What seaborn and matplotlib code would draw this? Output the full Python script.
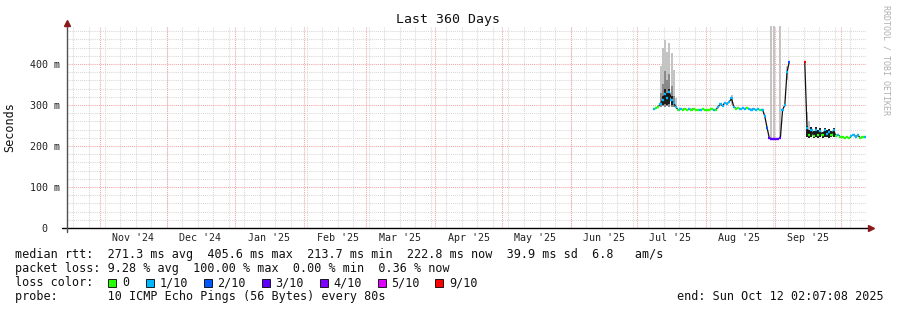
import numpy as np
import pandas as pd
import matplotlib
matplotlib.use("Agg")
import matplotlib.pyplot as plt
import matplotlib.dates as mdates
from matplotlib.patches import Rectangle
from datetime import datetime
import seaborn as sns

sns.set_theme(style="white")
plt.rcParams['font.family'] = ['DejaVu Sans Mono', 'DejaVu Sans']

# ---------------- data ----------------
start_day = "2025-07-08 12:00"
n_days = 96
median_ms = [
    290, 292, 296, 303, 312, 328, 318, 332, 312, 304, 295,           # Jul 8-18
    287, 290, 289, 291, 288, 290, 289, 291, 288, 289, 287, 290, 288, # Jul 19-31
    289, 288, 290, 288, 289,                                          # Aug 1-5
    296, 302, 298, 306, 303, 308, 316, 296,                           # Aug 6-13
    291, 293, 290, 292, 291, 293, 290, 289, 291, 288, 290, 288, 289,  # Aug 14-26
    272, 245, 220, 218, 218,                                          # Aug 27-31
    217, 218, 219, 288, 300, 380, 405,                                # Sep 1-7
    np.nan, np.nan, np.nan, np.nan, np.nan, np.nan,                   # Sep 8-13
    405, 245, 228, 238, 224, 240, 228, 236, 226, 238, 229, 235,       # Sep 14-25
    227, 238, 225, 228, 222,                                          # Sep 26-30
    221, 220, 222, 219, 225, 227, 223, 226, 220, 221, 222.8,          # Oct 1-11
]
loss_tenths = [
    1, 0, 0, 1, 1, 1, 1, 1, 1, 1, 1,
    0, 1, 0, 0, 0, 1, 0, 0, 0, 0, 1, 0, 0,
    0, 0, 0, 1, 0,
    1, 1, 1, 1, 1, 1, 1, 1,
    0, 0, 1, 1, 1, 0, 1, 1, 1, 1, 1, 0, 1,
    1, 2, 3, 3, 3,
    3, 3, 3, 1, 1, 1, 2,
    np.nan, np.nan, np.nan, np.nan, np.nan, np.nan,
    9, 1, 0, 1, 0, 1, 0, 1, 0, 1, 1, 1,
    0, 1, 0, 1, 0,
    0, 0, 0, 0, 1, 1, 1, 1, 0, 0, 1,
]
# smoke (ping spread) per day, ms
smoke_lo = {"2025-07-11": 296, "2025-07-12": 297, "2025-07-13": 296, "2025-07-14": 297,
            "2025-07-15": 296, "2025-07-16": 296, "2025-07-17": 295, "2025-07-18": 292,
            "2025-08-12": 300, "2025-08-30": 217, "2025-08-31": 217, "2025-09-03": 218,
            "2025-09-06": 362, "2025-09-15": 222, "2025-09-16": 220}
smoke_hi = {"2025-07-11": 395, "2025-07-12": 440, "2025-07-13": 458, "2025-07-14": 430,
            "2025-07-15": 452, "2025-07-16": 428, "2025-07-17": 385, "2025-07-18": 318,
            "2025-08-12": 324, "2025-08-30": 500, "2025-08-31": 500, "2025-09-03": 500,
            "2025-09-06": 396, "2025-09-15": 282, "2025-09-16": 262}
smoke_mid = {"2025-07-11": 330, "2025-07-12": 352, "2025-07-13": 382, "2025-07-14": 360,
             "2025-07-15": 376, "2025-07-16": 346, "2025-07-17": 322}
core_lo = {"2025-07-12": 300, "2025-07-13": 302, "2025-07-14": 301, "2025-07-15": 303,
           "2025-07-16": 300, "2025-09-15": 222, "2025-09-16": 220, "2025-09-17": 221,
           "2025-09-18": 219, "2025-09-19": 221, "2025-09-20": 220, "2025-09-21": 222,
           "2025-09-22": 220, "2025-09-23": 221, "2025-09-24": 222, "2025-09-25": 220,
           "2025-09-26": 221, "2025-09-27": 222}
core_hi = {"2025-07-12": 322, "2025-07-13": 338, "2025-07-14": 330, "2025-07-15": 340,
           "2025-07-16": 322, "2025-09-15": 250, "2025-09-16": 240, "2025-09-17": 246,
           "2025-09-18": 236, "2025-09-19": 247, "2025-09-20": 238, "2025-09-21": 244,
           "2025-09-22": 234, "2025-09-23": 245, "2025-09-24": 238, "2025-09-25": 242,
           "2025-09-26": 236, "2025-09-27": 244}

loss_labels = ["0", "1/10", "2/10", "3/10", "4/10", "5/10", "9/10"]
loss_levels = [0, 1, 2, 3, 4, 5, 9]
loss_colors = ["#26ff00", "#00b8ff", "#0059ff", "#5e00ff", "#7e00ff", "#dd00ff", "#ff0000"]

y_ticks = [0, 100, 200, 300, 400]
y_tick_labels = ["0  ", "100 m", "200 m", "300 m", "400 m"]

stat_lines = [
    "median rtt:  271.3 ms avg  405.6 ms max  213.7 ms min  222.8 ms now  39.9 ms sd  6.8   am/s",
    "packet loss: 9.28 % avg  100.00 % max  0.00 % min  0.36 % now",
    "loss color:",
    "probe:       10 ICMP Echo Pings (56 Bytes) every 80s",
]
end_text = "end: Sun Oct 12 02:07:08 2025"
title = "Last 360 Days"

t_start = datetime(2024, 10, 17, 2, 7, 8)
t_end = datetime(2025, 10, 12, 2, 7, 8)

# ---------------- frame ----------------
W, H = 897, 310
fig = plt.figure(figsize=(W / 100, H / 100), dpi=100)
fig.patch.set_facecolor("white")
ax = fig.add_axes([67 / W, (H - 228) / H, 799 / W, 202 / H])
ax.set_facecolor("white")
for s in ax.spines.values():
    s.set_visible(False)
ax.set_xlim(mdates.date2num(t_start), mdates.date2num(t_end))
ax.set_ylim(0, 492.7)

dot = (0, (1, 1))
# horizontal grid
for v in range(20, 500, 20):
    if v % 100 == 0:
        ax.axhline(v, color="#f2a6a6", lw=0.75, ls=dot, zorder=1)
    else:
        ax.axhline(v, color="#d8d8d8", lw=0.75, ls=dot, zorder=0.5)
# vertical grid: weekly minor, monthly major
for d in pd.date_range("2024-10-20", "2025-10-12", freq="7D"):
    ax.axvline(mdates.date2num(d), color="#d8d8d8", lw=0.75, ls=dot, zorder=0.5)
for d in pd.date_range("2024-11-01", "2025-10-01", freq="MS"):
    ax.axvline(mdates.date2num(d), color="#f2a6a6", lw=0.75, ls=dot, zorder=1)

# ---------------- data drawing ----------------
dates = pd.date_range(start_day, periods=n_days, freq="D")
df = pd.DataFrame({"date": dates, "median": median_ms, "loss": loss_tenths})
df["seg"] = df["median"].isna().cumsum()
day_key = dates.strftime("%Y-%m-%d")

def aligned(d):
    return pd.Series([d.get(k, np.nan) for k in day_key], index=dates)

def smoke_bars(lo, hi, color, z):
    ok = lo.notna() & hi.notna()
    ax.bar(dates[ok], (hi - lo)[ok], bottom=lo[ok], width=0.9, color=color,
           lw=0, zorder=z, align="center")

lo = aligned(smoke_lo); hi = aligned(smoke_hi); mid = aligned(smoke_mid)
clo = aligned(core_lo); chi = aligned(core_hi)
smoke_bars(lo, hi, "#c4c4c4", 2)
smoke_bars(lo, mid, "#8a8a8a", 2.1)
smoke_bars(clo, chi, "#1e1e1e", 2.2)

sns.lineplot(data=df.dropna(subset=["median"]), x="date", y="median", units="seg",
             estimator=None, color="#111111", lw=0.9, ax=ax, zorder=3)

half = pd.Timedelta(hours=12)
for lvl, col in zip(loss_levels, loss_colors):
    sub = df[df["loss"] == lvl]
    if len(sub):
        ax.hlines(sub["median"], sub["date"] - half, sub["date"] + half,
                  colors=col, lw=1.7, zorder=4)

# ---------------- axes, ticks ----------------
mid_months = pd.date_range("2024-11-01", "2025-09-01", freq="MS") + pd.Timedelta(days=15)
ax.set_xticks(mdates.date2num(mid_months))
ax.set_xticklabels([d.strftime("%b '%y") for d in mid_months])
ax.set_yticks(y_ticks)
ax.set_yticklabels(y_tick_labels)
ax.tick_params(axis="x", length=0, pad=3.5, labelsize=7.2, labelcolor="#222222")
ax.tick_params(axis="y", length=0, pad=5.2, labelsize=7.2, labelcolor="#222222")
ax.set_xlabel(""); ax.set_ylabel("")

# axis lines with arrows
ax.plot([-5 / 799, 802 / 799], [0, 0], color="black", lw=1.0,
        transform=ax.transAxes, clip_on=False, zorder=6)
ax.plot([0, 0], [-4 / 202, 204 / 202], color="#505050", lw=1.0,
        transform=ax.transAxes, clip_on=False, zorder=6)
ax.plot([804 / 799], [0], marker=">", ms=4.5, color="#8b1a1a", mec="#8b1a1a",
        transform=ax.transAxes, clip_on=False, zorder=7)
ax.plot([0], [205 / 202], marker="^", ms=4.5, color="#8b1a1a", mec="#8b1a1a",
        transform=ax.transAxes, clip_on=False, zorder=7)

# ---------------- texts ----------------
fs = 8.5
fig.text(448 / W, 1 - 20 / H, title, ha="center", va="center", fontsize=9.5, color="#111111")
fig.text(10 / W, 1 - 127.5 / H, "Seconds", rotation=90, ha="center", va="center",
         fontsize=fs, color="#111111")
fig.text(886 / W, 1 - 5 / H, "RRDTOOL / TOBI OETIKER", rotation=270, ha="center", va="top",
         fontsize=6, color="#b0b0b0")

line_y = [254.7, 268.7, 282.7, 296.7]
for txt, yy in zip(stat_lines, line_y):
    fig.text(15 / W, 1 - yy / H, txt, ha="left", va="center", fontsize=fs, color="#111111")
fig.text(677 / W, 1 - line_y[3] / H, end_text, ha="left", va="center", fontsize=fs, color="#111111")

box_x = [108, 146, 204, 262, 320, 378, 435]
lab_x = [122, 159.5, 217.5, 275.5, 333.5, 391.5, 449.5]
for bx, lx, col, lab in zip(box_x, lab_x, loss_colors, loss_labels):
    fig.patches.append(Rectangle((bx / W, 1 - 286.5 / H), 8 / W, 8 / H, transform=fig.transFigure,
                                 facecolor=col, edgecolor="black", lw=0.6))
    fig.text(lx / W, 1 - line_y[2] / H, lab, ha="left", va="center", fontsize=fs, color="#111111")

fig.savefig("out.png", dpi=100, facecolor="white")
